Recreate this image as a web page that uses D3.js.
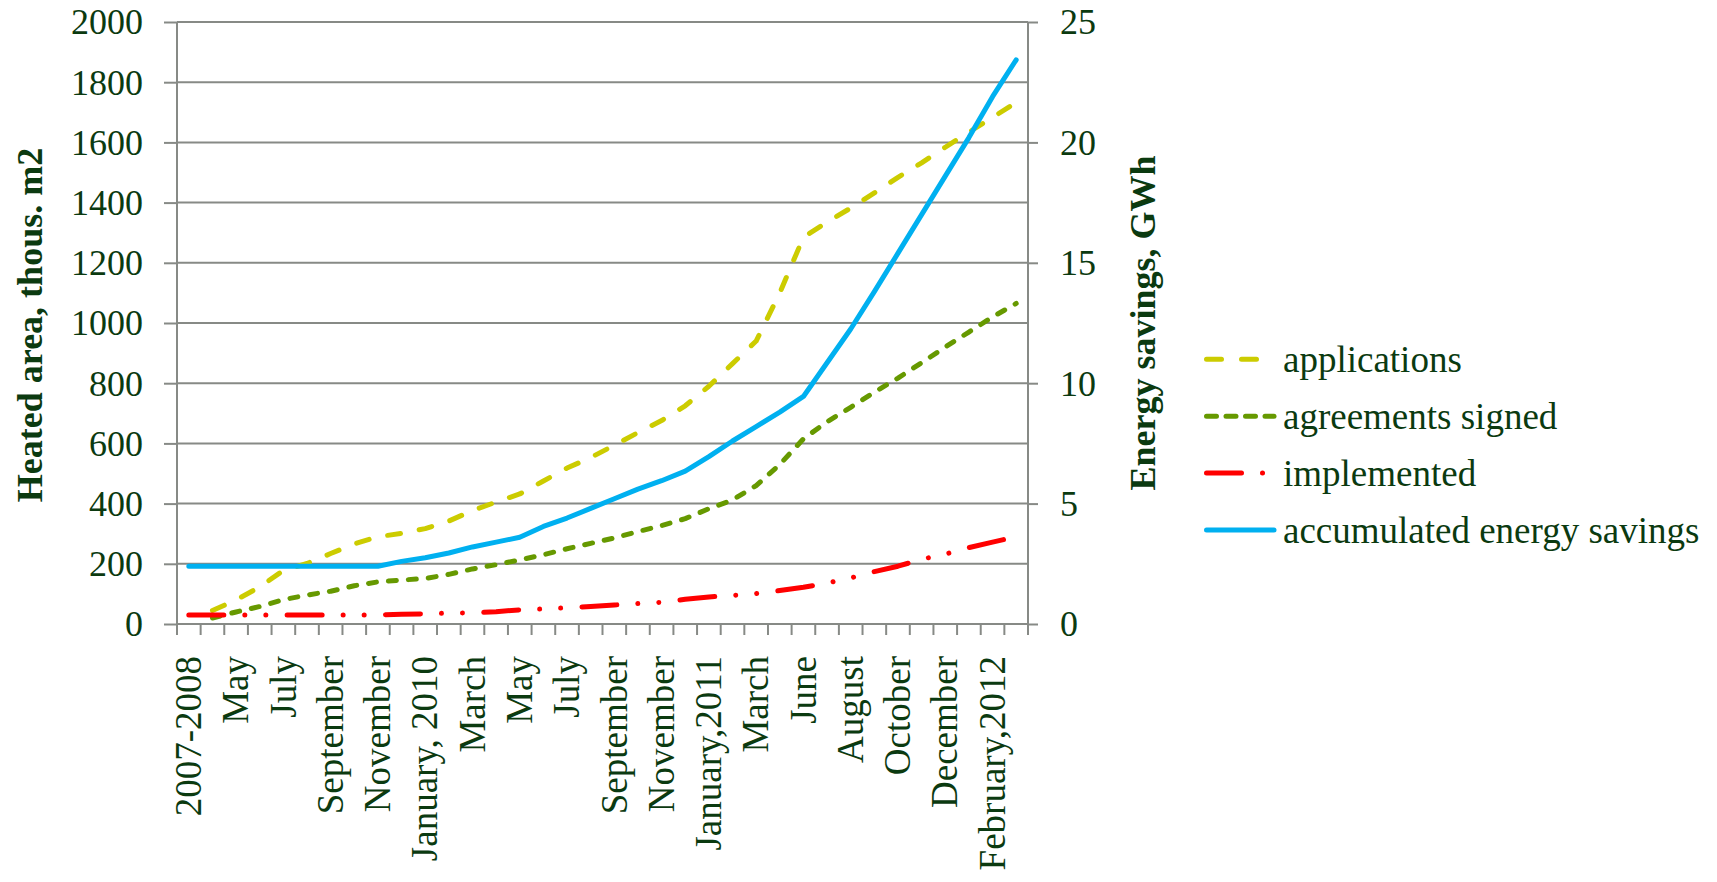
<!DOCTYPE html>
<meta charset="utf-8">
<style>
body { margin: 0; background: #fff; }
text { font-family: "Liberation Serif", "Times New Roman", serif; fill: #0b3a10; }
.series { fill: none; stroke-width: 5; stroke-linejoin: round; stroke-linecap: round; }
</style>
<body>
<script src="https://d3js.org/d3.v7.min.js"></script>
<script>

var width = 1717,
    height = 882;

// 36 monthly points, only every second one is labelled on the axis
var categories = ["2007-2008", "April", "May", "June", "July", "August", "September", "October",
  "November", "December", "January, 2010", "February", "March", "April", "May", "June", "July",
  "August", "September", "October", "November", "December", "January,2011", "February", "March",
  "May", "June", "July", "August", "September", "October", "November", "December", "January",
  "February,2012", "March"];

// heated area, thous. m2 (left axis)
var applications = [null, 45, 80, 123, 178, 201, 234, 266, 290, 301, 317, 342, 377, 405, 432, 475,
  518, 553, 594, 636, 676, 725, 790, 865, 940, 1100, 1285, 1335, 1382, 1432, 1484, 1532, 1584,
  1634, 1683, 1733];
var agreements = [null, 20, 40, 58, 81, 96, 109, 127, 140, 146, 151, 165, 183, 197, 213, 230, 250,
  268, 286, 307, 327, 350, 383, 412, 460, 530, 615, 672, 720, 770, 817, 868, 920, 970, 1020, 1065];
var implemented = [30, 30, 30, 30, 30, 30, 30, 30, 30, 32, 34, 36, 37, 41, 47, 50, 54, 58, 63, 68,
  72, 82, 90, 95, 101, 111, 122, 136, 153, 174, 192, 215, 232, 254, 272, 290];

// accumulated energy savings, GWh (right axis)
var savings = [2.4, 2.4, 2.4, 2.4, 2.4, 2.4, 2.4, 2.4, 2.4, 2.6, 2.75, 2.95, 3.2, 3.4, 3.6, 4.05,
  4.4, 4.8, 5.2, 5.6, 5.95, 6.35, 6.95, 7.6, 8.2, 8.8, 9.45, 10.85, 12.25, 13.8, 15.4, 17.0,
  18.6, 20.2, 21.9, 23.43];

var leftTicks = d3.range(0, 2001, 200);
var rightTicks = d3.range(0, 26, 5);

var svg = d3.select("body").append("svg")
    .attr("width", width)
    .attr("height", height);

var x = d3.scaleBand()
    .domain(d3.range(categories.length))
    .range([177, 1028]);

var yLeft = d3.scaleLinear().domain([0, 2000]).range([624, 22]);
var yRight = d3.scaleLinear().domain([0, 25]).range([624, 22]);

function cx(i) { return x(i) + x.bandwidth() / 2; }

// gridlines
svg.append("g").selectAll("line")
    .data(leftTicks)
  .enter().append("line")
    .attr("x1", 177).attr("x2", 1028)
    .attr("y1", function(d) { return yLeft(d); })
    .attr("y2", function(d) { return yLeft(d); })
    .attr("stroke", "#878a86").attr("stroke-width", 2);

// left axis
var gLeft = svg.append("g")
    .attr("transform", "translate(177,0)")
    .call(d3.axisLeft(yLeft).tickValues(leftTicks).tickFormat(d3.format("d"))
      .tickSizeInner(13).tickSizeOuter(0).tickPadding(21));

// right axis
var gRight = svg.append("g")
    .attr("transform", "translate(1028,0)")
    .call(d3.axisRight(yRight).tickValues(rightTicks).tickFormat(d3.format("d"))
      .tickSizeInner(10).tickSizeOuter(0).tickPadding(22));

[gLeft, gRight].forEach(function(g) {
  g.attr("font-family", null).attr("font-size", 36);
  g.select(".domain").remove();
  g.selectAll("line").attr("stroke", "#878a86").attr("stroke-width", 2);
  g.selectAll("text").attr("fill", "#0b3a10").attr("dy", "0.33em");
});

// vertical axis lines
svg.append("g").selectAll("line")
    .data([177, 1028])
  .enter().append("line")
    .attr("x1", function(d) { return d; }).attr("x2", function(d) { return d; })
    .attr("y1", 22).attr("y2", 635)
    .attr("stroke", "#878a86").attr("stroke-width", 2);

// category boundary ticks
svg.append("g").selectAll("line")
    .data(d3.range(categories.length + 1))
  .enter().append("line")
    .attr("x1", function(d) { return 177 + d * x.step(); })
    .attr("x2", function(d) { return 177 + d * x.step(); })
    .attr("y1", 624).attr("y2", 635)
    .attr("stroke", "#878a86").attr("stroke-width", 2);

// category labels
svg.append("g").selectAll("text")
    .data(d3.range(0, categories.length, 2))
  .enter().append("text")
    .attr("transform", function(d) { return "translate(" + cx(d) + ",656) rotate(-90)"; })
    .attr("text-anchor", "end")
    .attr("dy", "0.33em")
    .attr("font-size", 37)
    .text(function(d) { return categories[d]; });

// series
var lineLeft = d3.line()
    .defined(function(d) { return d != null; })
    .x(function(d, i) { return cx(i); })
    .y(function(d) { return yLeft(d); });

var lineRight = d3.line()
    .x(function(d, i) { return cx(i); })
    .y(function(d) { return yRight(d); });

var series = [
  {name: "applications", values: applications, line: lineLeft, color: "#cccc00", dash: "13,19", legendDash: "15,20"},
  {name: "agreements signed", values: agreements, line: lineLeft, color: "#669900", dash: "8,12", legendDash: "10,9.5"},
  {name: "implemented", values: implemented, line: lineLeft, color: "#ff0000", dash: "35,21,0.01,21,0.01,21.3", legendDash: "35,21,0.01,60"},
  {name: "accumulated energy savings", values: savings, line: lineRight, color: "#00b0f0", dash: null, legendDash: null}
];

svg.append("g").selectAll("path")
    .data(series)
  .enter().append("path")
    .attr("class", "series")
    .attr("d", function(d) { return d.line(d.values); })
    .attr("stroke", function(d) { return d.color; })
    .attr("stroke-dasharray", function(d) { return d.dash; });

// axis titles
svg.append("text")
    .attr("transform", "translate(30,325) rotate(-90)")
    .attr("text-anchor", "middle")
    .attr("dy", "0.33em")
    .attr("font-size", 36)
    .attr("font-weight", "bold")
    .text("Heated area, thous. m2");

svg.append("text")
    .attr("transform", "translate(1143,323) rotate(-90)")
    .attr("text-anchor", "middle")
    .attr("dy", "0.33em")
    .attr("font-size", 36)
    .attr("font-weight", "bold")
    .text("Energy savings, GWh");

// legend
var legend = svg.append("g").selectAll("g")
    .data(series)
  .enter().append("g")
    .attr("transform", function(d, i) { return "translate(1204," + (359.3 + i * 56.9) + ")"; });

legend.append("line")
    .attr("class", "series")
    .attr("x1", 2.5).attr("x2", 70)
    .attr("stroke", function(d) { return d.color; })
    .attr("stroke-dasharray", function(d) { return d.legendDash; });

legend.append("text")
    .attr("x", 79)
    .attr("dy", 12.5)
    .attr("font-size", 37)
    .text(function(d) { return d.name; });

</script>
